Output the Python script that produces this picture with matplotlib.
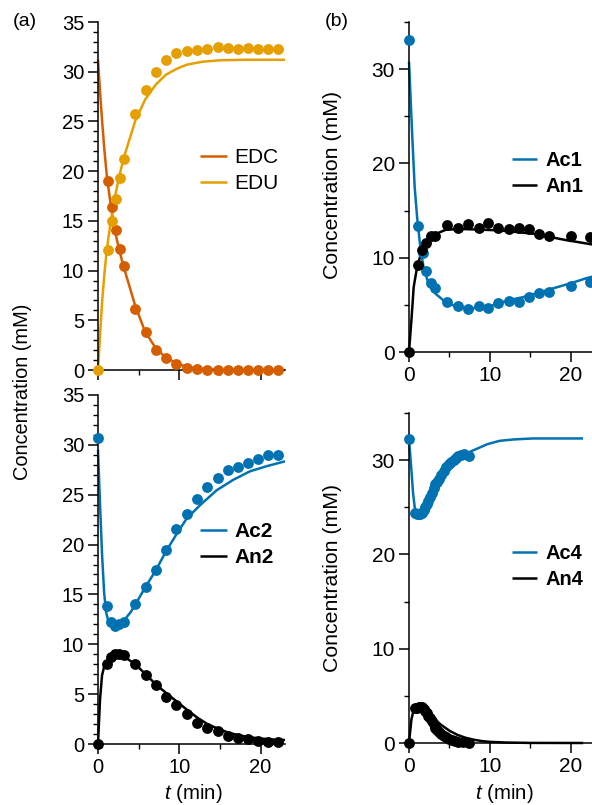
import matplotlib
matplotlib.use("Agg")
import matplotlib.pyplot as plt
from matplotlib.ticker import MultipleLocator

plt.rcParams['font.family'] = ['Liberation Sans', 'DejaVu Sans']
plt.rcParams['mathtext.fontset'] = 'custom'
plt.rcParams['mathtext.it'] = 'Liberation Sans:italic'
plt.rcParams['mathtext.rm'] = 'Liberation Sans'

C_EDC = '#D55E00'
C_EDU = '#E69F00'
C_BLUE = '#0072B2'
C_BLACK = '#000000'

# ---------------- Panel (a) top: EDC / EDU ----------------
edc_t = [1.2, 1.7, 2.2, 2.65, 3.15, 4.6, 5.9, 7.15, 8.4, 9.65, 10.9, 12.2, 13.45,
         14.7, 15.95, 17.2, 18.4, 19.7, 20.95, 22.2]
edc_y = [19.0, 16.4, 14.1, 12.2, 10.5, 6.1, 3.8, 2.0, 1.2, 0.57, 0.23, 0.07, 0.05,
         0.05, 0.05, 0.05, 0.05, 0.05, 0.05, 0.05]
edu_t = [0.0, 1.2, 1.7, 2.2, 2.65, 3.15, 4.6, 5.9, 7.15, 8.4, 9.65, 10.9, 12.2, 13.45,
         14.7, 15.95, 17.2, 18.4, 19.7, 20.95, 22.2]
edu_y = [0.0, 12.1, 15.0, 17.2, 19.3, 21.2, 25.7, 28.2, 30.0, 31.2, 31.9, 32.1, 32.2, 32.3,
         32.5, 32.35, 32.25, 32.4, 32.3, 32.3, 32.3]
edc_fit_t = [0.0, 0.25, 0.5, 0.8, 1.1, 1.6, 2.05, 2.6, 3.15, 4.6, 5.8, 7.1, 8.35, 9.7,
             10.9, 12.2, 15.0, 23.0]
edc_fit_y = [31.2, 28.0, 25.1, 22.0, 19.4, 16.4, 14.1, 12.1, 10.4, 6.4, 3.85, 2.2, 1.25,
             0.67, 0.33, 0.15, 0.03, 0.0]
edu_fit_t = [0.0, 0.25, 0.5, 0.8, 1.1, 1.6, 2.05, 2.6, 3.15, 4.6, 5.8, 7.1, 8.35, 9.7,
             10.9, 12.8, 15.0, 18.0, 23.0]
edu_fit_y = [0.0, 3.5, 6.8, 9.8, 12.2, 15.1, 17.3, 19.4, 21.3, 25.1, 27.2, 28.7, 29.7,
             30.3, 30.7, 31.0, 31.15, 31.2, 31.2]

# ---------------- Panel (a) bottom: Ac2 / An2 ----------------
ac2_t = [0.0, 1.15, 1.6, 2.1, 2.6, 3.15, 4.6, 5.9, 7.15, 8.4, 9.65, 10.9, 12.2, 13.45,
         14.7, 15.95, 17.2, 18.4, 19.7, 20.95, 22.2]
ac2_y = [30.7, 13.8, 12.2, 11.8, 12.0, 12.2, 14.05, 15.7, 17.4, 19.5, 21.6, 23.1, 24.6,
         25.8, 26.7, 27.45, 27.8, 28.2, 28.6, 28.95, 28.95]
an2_t = ac2_t
an2_y = [0.0, 8.0, 8.75, 9.0, 9.0, 8.95, 8.0, 6.9, 5.9, 4.75, 3.9, 3.0, 2.15, 1.65,
         1.35, 0.85, 0.65, 0.5, 0.3, 0.25, 0.2]
ac2_fit_t = [0.0, 0.25, 0.5, 0.75, 1.0, 1.25, 1.5, 2.0, 2.5, 3.0, 3.5, 4.0, 4.6, 5.8,
             7.1, 8.35, 9.7, 10.9, 12.55, 14.6, 16.65, 18.7, 20.7, 23.0]
ac2_fit_y = [29.5, 24.0, 19.0, 15.2, 13.2, 12.4, 12.0, 11.75, 11.8, 12.1, 12.7, 13.2,
             14.0, 15.7, 17.4, 19.3, 21.1, 22.6, 23.95, 25.45, 26.5, 27.35, 27.85, 28.35]
an2_fit_t = [0.0, 0.25, 0.5, 0.8, 1.1, 1.5, 2.0, 2.5, 3.0, 3.5, 4.6, 5.9, 7.15, 8.4,
             9.7, 11.0, 12.2, 13.45, 14.7, 16.0, 17.2, 18.4, 20.0, 21.5, 23.0]
an2_fit_y = [0.0, 4.5, 6.9, 7.9, 8.3, 8.7, 8.95, 8.95, 8.85, 8.6, 8.0, 6.95, 5.95, 5.1,
             4.25, 3.4, 2.65, 2.0, 1.55, 1.15, 0.9, 0.7, 0.55, 0.45, 0.4]

# ---------------- Panel (b) top: Ac1 / An1 ----------------
ac1_t = [0.0, 1.1, 1.75, 2.15, 2.7, 3.2, 4.75, 6.0, 7.3, 8.6, 9.8, 11.05, 12.3, 13.55,
         14.85, 16.1, 17.3, 19.95, 22.3]
ac1_y = [33.1, 13.35, 10.5, 8.6, 7.35, 6.75, 5.25, 4.9, 4.6, 4.9, 4.65, 5.2, 5.45, 5.35,
         5.8, 6.25, 6.4, 7.0, 7.45]
an1_t = [0.0, 1.1, 1.65, 2.15, 2.7, 3.2, 4.75, 6.0, 7.3, 8.6, 9.8, 11.05, 12.3, 13.55,
         14.85, 16.1, 17.3, 19.95, 22.3]
an1_y = [0.0, 9.2, 10.8, 11.6, 12.3, 12.3, 13.45, 13.2, 13.6, 13.2, 13.7, 13.15, 13.0,
         13.1, 13.0, 12.55, 12.35, 12.3, 12.2]
ac1_fit_t = [0.0, 0.37, 0.7, 1.0, 1.4, 1.8, 2.4, 3.25, 4.5, 5.9, 7.4, 9.8, 12.3, 14.0,
             16.0, 18.0, 20.0, 22.0, 22.7]
ac1_fit_y = [30.8, 23.5, 17.5, 14.3, 11.1, 9.0, 7.25, 6.2, 5.3, 4.8, 4.6, 4.8, 5.5, 5.8,
             6.3, 6.8, 7.3, 7.85, 8.0]
an1_fit_t = [0.0, 0.3, 0.58, 1.0, 1.6, 2.4, 3.25, 4.5, 6.1, 8.0, 11.2, 15.3, 17.4, 19.5, 22.7]
an1_fit_y = [0.0, 3.4, 6.9, 9.0, 10.8, 12.0, 12.5, 12.95, 13.05, 13.0, 12.9, 12.55,
             12.2, 11.85, 11.4]

# ---------------- Panel (b) bottom: Ac4 / An4 ----------------
ac4_t = [0.0, 0.8, 1.0, 1.2, 1.4, 1.6, 1.8, 2.0, 2.2, 2.4, 2.6, 2.85, 3.05, 3.25, 3.45,
         3.65, 3.95, 4.3, 4.6, 4.9, 5.2, 5.5, 5.8, 6.1, 6.4, 6.75, 7.35]
ac4_y = [32.2, 24.4, 24.3, 24.25, 24.3, 24.4, 24.7, 25.0, 25.3, 25.7, 26.1, 26.55, 27.0,
         27.45, 27.7, 28.0, 28.45, 28.9, 29.25, 29.6, 29.8, 30.0, 30.2, 30.4, 30.5, 30.6, 30.4]
an4_t = [0.0, 0.8, 1.0, 1.2, 1.4, 1.6, 1.8, 2.0, 2.2, 2.4, 2.6, 2.85, 3.05, 3.25, 3.45,
         3.65, 3.95, 4.3, 4.6, 4.9, 5.3, 5.7, 6.1, 6.7, 7.35]
an4_y = [0.0, 3.7, 3.75, 3.8, 3.85, 3.8, 3.6, 3.4, 3.15, 2.9, 2.6, 2.3, 2.0, 1.55, 1.35,
         1.15, 1.0, 0.75, 0.6, 0.45, 0.3, 0.2, 0.15, 0.1, 0.05]
ac4_fit_t = [0.0, 0.25, 0.5, 0.75, 1.0, 1.25, 1.5, 2.0, 3.0, 4.0, 5.0, 6.0, 7.3, 8.5,
             9.7, 11.2, 13.0, 15.3, 21.5]
ac4_fit_y = [32.2, 29.5, 26.5, 24.7, 24.25, 24.15, 24.3, 25.2, 27.0, 28.5, 29.6, 30.3,
             30.8, 31.25, 31.7, 32.05, 32.2, 32.3, 32.3]
an4_fit_t = [0.0, 0.3, 0.6, 1.0, 1.5, 2.0, 3.0, 4.0, 5.0, 6.0, 7.0, 8.0, 9.0, 10.0, 12.0,
             15.0, 21.5]
an4_fit_y = [0.0, 2.5, 3.6, 3.85, 3.7, 3.4, 2.6, 1.9, 1.3, 0.85, 0.55, 0.35, 0.2, 0.12,
             0.05, 0.01, 0.0]

W, H = 592, 805
fig = plt.figure(figsize=(W / 100, H / 100), dpi=100)


def px_axes(x0, y0, x1, y1):
    return fig.add_axes([x0 / W, 1 - y1 / H, (x1 - x0) / W, (y1 - y0) / H])


LW = 1.8
MS = 7.8


def style(ax, xmax, ymaj, ymin, fs, xlabels=True):
    ax.set_xlim(0, xmax)
    ax.set_ylim(0, 35)
    for s in ['top', 'right']:
        ax.spines[s].set_visible(False)
    for s in ['left', 'bottom']:
        ax.spines[s].set_linewidth(1.1)
    ax.xaxis.set_major_locator(MultipleLocator(10))
    ax.xaxis.set_minor_locator(MultipleLocator(5))
    ax.yaxis.set_major_locator(MultipleLocator(ymaj))
    ax.yaxis.set_minor_locator(MultipleLocator(ymin))
    ax.tick_params(which='major', direction='out', length=7, width=1.1,
                   labelsize=fs, pad=3)
    ax.tick_params(which='minor', direction='out', length=3.5, width=1.0)
    if not xlabels:
        ax.tick_params(axis='x', labelbottom=False)


def draw(ax, t, y, ft, fy, color, label):
    ax.plot(ft, fy, color=color, lw=LW, label=label, zorder=2, clip_on=False,
            solid_capstyle='butt')
    ax.plot(t, y, 'o', color=color, ms=MS, mec='none', zorder=3, clip_on=False)


def legend(ax, x, y, bold, fs, hl, htp):
    leg = ax.legend(loc='upper left', bbox_to_anchor=(x, y), frameon=False,
                    fontsize=fs, handlelength=hl, handletextpad=htp,
                    labelspacing=0.33, borderpad=0, borderaxespad=0)
    if bold:
        for t in leg.get_texts():
            t.set_fontweight('bold')


FS_L = 14.5
FS_R = 15.0

# (a) top
ax1 = px_axes(98, 22, 285, 370)
style(ax1, 23, 5, 1, FS_L, xlabels=False)
draw(ax1, edc_t, edc_y, edc_fit_t, edc_fit_y, C_EDC, 'EDC')
draw(ax1, edu_t, edu_y, edu_fit_t, edu_fit_y, C_EDU, 'EDU')
legend(ax1, 0.545, 0.638, False, 15, 1.3, 0.35)

# (a) bottom
ax2 = px_axes(98, 395, 285, 744)
style(ax2, 23, 5, 1, FS_L)
draw(ax2, ac2_t, ac2_y, ac2_fit_t, ac2_fit_y, C_BLUE, 'Ac2')
draw(ax2, an2_t, an2_y, an2_fit_t, an2_fit_y, C_BLACK, 'An2')
legend(ax2, 0.545, 0.636, True, 15, 1.3, 0.35)

# (b) top
ax3 = px_axes(409, 22, 592, 352)
style(ax3, 22.6, 10, 5, FS_R)
draw(ax3, ac1_t, ac1_y, ac1_fit_t, ac1_fit_y, C_BLUE, 'Ac1')
draw(ax3, an1_t, an1_y, an1_fit_t, an1_fit_y, C_BLACK, 'An1')
legend(ax3, 0.563, 0.609, True, 14.5, 1.25, 0.4)

# (b) bottom
ax4 = px_axes(409, 413, 592, 743)
style(ax4, 22.6, 10, 5, FS_R)
draw(ax4, ac4_t, ac4_y, ac4_fit_t, ac4_fit_y, C_BLUE, 'Ac4')
draw(ax4, an4_t, an4_y, an4_fit_t, an4_fit_y, C_BLACK, 'An4')
legend(ax4, 0.563, 0.603, True, 14.5, 1.25, 0.4)

# labels
fig.text(23 / W, 1 - 392 / H, 'Concentration (mM)', rotation=90, ha='center',
         va='center', fontsize=14.4)
fig.text(333 / W, 1 - 185 / H, 'Concentration (mM)', rotation=90, ha='center',
         va='center', fontsize=15.3)
fig.text(333 / W, 1 - 578 / H, 'Concentration (mM)', rotation=90, ha='center',
         va='center', fontsize=15.3)
fig.text(193 / W, 1 - 793 / H, r'$t$ (min)', ha='center', va='center', fontsize=14.8)
fig.text(504 / W, 1 - 793 / H, r'$t$ (min)', ha='center', va='center', fontsize=14.8)
fig.text(25 / W, 1 - 22 / H, '(a)', ha='center', va='center', fontsize=14)
fig.text(337 / W, 1 - 22 / H, '(b)', ha='center', va='center', fontsize=14)

fig.savefig('out.png', dpi=100)
